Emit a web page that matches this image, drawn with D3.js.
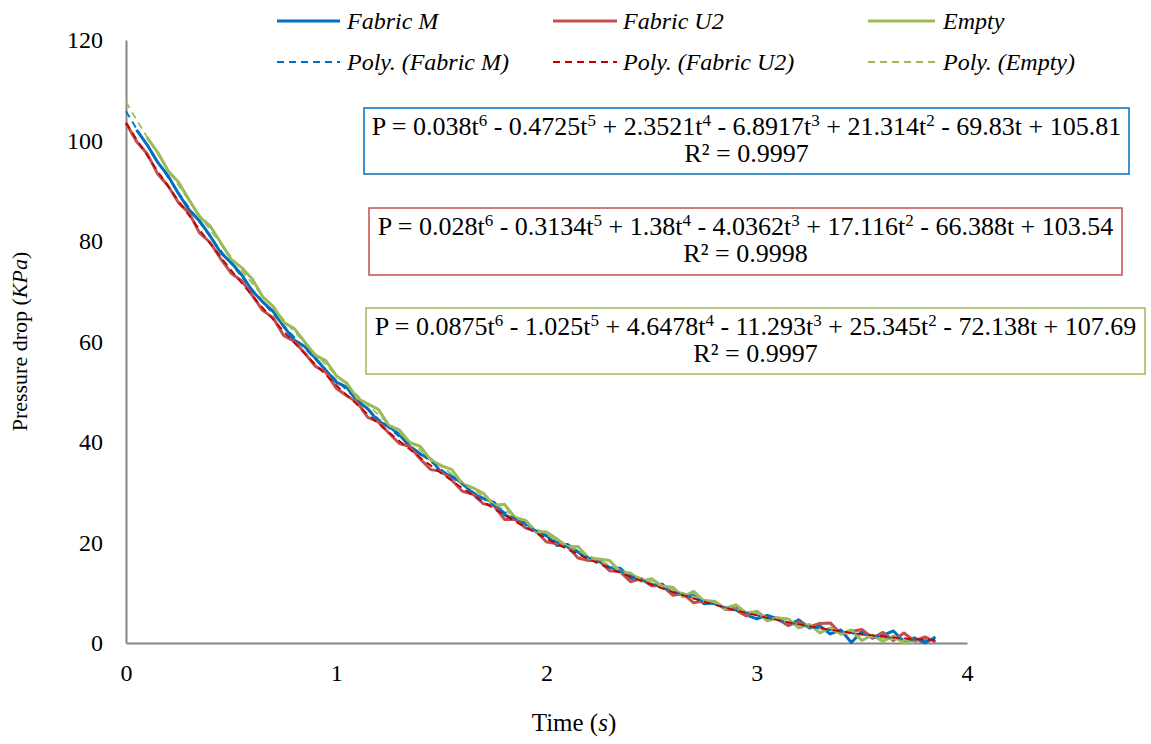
<!DOCTYPE html>
<html>
<head>
<meta charset="utf-8">
<script src="https://cdn.jsdelivr.net/npm/d3@7"></script>
<style>
  body { margin: 0; background: #fff; }
  text { font-family: "Liberation Serif", "Times New Roman", serif; fill: #000; }
</style>
</head>
<body>
<svg id="chart" width="1151" height="744"></svg>
<script>
// Sampling times (s)
const time = [0,0.05,0.1,0.15,0.2,0.25,0.3,0.35,0.4,0.45,0.5,0.55,0.6,0.65,0.7,0.75,0.8,0.85,0.9,0.95,
  1,1.05,1.1,1.15,1.2,1.25,1.3,1.35,1.4,1.45,1.5,1.55,1.6,1.65,1.7,1.75,1.8,1.85,1.9,1.95,
  2,2.05,2.1,2.15,2.2,2.25,2.3,2.35,2.4,2.45,2.5,2.55,2.6,2.65,2.7,2.75,2.8,2.85,2.9,2.95,
  3,3.05,3.1,3.15,3.2,3.25,3.3,3.35,3.4,3.45,3.5,3.55,3.6,3.65,3.7,3.75,3.8,3.85];

// Measured pressure drop (KPa)
const fabricM = [null,102.1,99.2,95.7,93.0,89.4,86.2,84.0,81.0,77.7,75.7,73.3,70.1,67.9,66.0,63.0,60.3,59.0,56.7,54.3,
  51.9,50.9,48.2,46.6,44.1,43.1,41.5,39.1,37.6,36.6,33.9,33.2,31.8,29.7,28.8,28.0,25.5,24.6,24.0,22.1,
  21.4,19.4,19.6,18.1,16.6,16.4,15.0,14.9,12.9,12.8,11.5,11.7,9.7,9.7,9.4,7.8,8.0,6.9,7.4,5.6,
  4.8,5.5,4.8,3.5,4.6,3.0,3.4,1.8,2.6,0.1,2.3,1.0,1.5,2.4,0.2,1.0,0.0,1.2];

const fabricU2 = [103.5,99.8,97.4,93.4,91.0,87.6,85.6,81.6,79.7,76.5,73.6,72.1,69.2,66.2,64.7,61.2,60.0,57.7,55.1,53.9,
  50.7,49.2,47.9,44.9,44.0,41.8,39.7,39.1,36.6,34.5,34.2,32.4,30.2,29.6,27.7,27.3,24.6,24.6,22.9,22.3,
  20.1,19.8,19.2,16.9,16.4,16.4,14.4,14.2,12.2,12.8,11.4,11.4,9.5,9.8,8.0,8.4,8.2,6.7,6.6,5.4,
  6.3,4.7,5.0,3.5,4.2,3.2,3.9,4.0,1.8,2.3,2.7,1.0,2.1,0.5,2.0,0.4,1.2,0.2];

const empty = [null,null,100.6,97.7,94.0,91.7,88.2,84.8,83.0,79.7,76.4,74.7,72.5,68.9,67.0,63.8,62.6,59.9,57.3,56.2,
  53.2,51.7,48.7,47.6,46.5,43.3,42.4,39.9,39.1,36.4,35.3,34.5,31.6,30.9,29.8,27.4,27.6,25.0,24.4,22.2,
  22.1,20.7,19.1,19.2,16.9,16.7,16.4,14.2,13.9,12.3,12.8,11.3,11.1,9.2,10.3,8.3,8.3,6.8,7.6,6.0,
  6.2,4.4,5.0,4.8,3.0,3.7,2.0,3.0,1.8,2.6,0.5,1.6,0.3,1.4,0.0,0.1,null,null];

// 6th-order polynomial trend coefficients, constant term first
const polyM = [105.81, -69.83, 21.314, -6.8917, 2.3521, -0.4725, 0.038];
const polyU2 = [103.54, -66.388, 17.116, -4.0362, 1.38, -0.3134, 0.028];
const polyEmpty = [107.69, -72.138, 25.345, -11.293, 4.6478, -1.025, 0.0875];
const rSquared = ["0.9997", "0.9998", "0.9997"];

const seriesNames = ["Fabric M", "Fabric U2", "Empty"];
const trendNames = ["Poly. (Fabric M)", "Poly. (Fabric U2)", "Poly. (Empty)"];
const xTicks = [0, 1, 2, 3, 4];
const yTicks = [0, 20, 40, 60, 80, 100, 120];

// ---- drawing ----
const svg = d3.select("#chart");
const plotLeft = 126, plotRight = 967, plotTop = 40, plotBottom = 643;
const x = d3.scaleLinear().domain([0, 4]).range([plotLeft, plotRight]);
const y = d3.scaleLinear().domain([0, 120]).range([plotBottom, plotTop]);

const dataColors = ["#0070C0", "#C0504D", "#9BBB59"];
const trendColors = ["#0070C0", "#C00000", "#9BBB59"];
const seriesValues = [fabricM, fabricU2, empty];
const polys = [polyM, polyU2, polyEmpty];

// axes
const yAxis = d3.axisLeft(y).tickValues(yTicks).tickSize(0).tickPadding(23).tickFormat(d3.format("d"));
const xAxis = d3.axisBottom(x).tickValues(xTicks).tickSize(0).tickPadding(21).tickFormat(d3.format("d"));

const gy = svg.append("g").attr("transform", `translate(${plotLeft},0)`).call(yAxis);
const gx = svg.append("g").attr("transform", `translate(0,${plotBottom})`).call(xAxis);
[gy, gx].forEach(g => {
  g.select(".domain").attr("stroke", "#868686").attr("stroke-width", 2);
  g.selectAll(".tick text").style("font-family", '"Liberation Serif", serif').style("font-size", "24px").attr("fill", "#000");
});

// axis titles
const yt = svg.append("text")
  .attr("transform", `translate(27,${(plotTop + plotBottom) / 2}) rotate(-90)`)
  .attr("text-anchor", "middle").style("font-size", "22px");
yt.append("tspan").text("Pressure drop (");
yt.append("tspan").style("font-style", "italic").text("KPa");
yt.append("tspan").text(")");

const xt = svg.append("text")
  .attr("x", 574).attr("y", 731)
  .attr("text-anchor", "middle").style("font-size", "25px");
xt.append("tspan").text("Time (");
xt.append("tspan").style("font-style", "italic").text("s");
xt.append("tspan").text(")");

// measured series
const line = d3.line()
  .defined(d => d[1] !== null)
  .x(d => x(d[0])).y(d => y(d[1]));

seriesValues.forEach((vals, i) => {
  const pts = time.map((t, j) => [t, vals[j]]);
  svg.append("path").datum(pts)
    .attr("fill", "none").attr("stroke", dataColors[i])
    .attr("stroke-width", 3).attr("stroke-linejoin", "round")
    .attr("d", line);
});

// polynomial trend lines (drawn from the stated equations)
const evalPoly = (c, t) => c.reduce((s, a, k) => s + a * Math.pow(t, k), 0);
[0, 2, 1].forEach(i => {
  const vals = seriesValues[i];
  let lastIdx = vals.length - 1;
  while (vals[lastIdx] === null) lastIdx--;
  const tEnd = time[lastIdx];
  const ts = d3.range(0, tEnd + 1e-9, 0.01);
  const pts = ts.map(t => [t, evalPoly(polys[i], t)]);
  svg.append("path").datum(pts)
    .attr("fill", "none").attr("stroke", trendColors[i])
    .attr("stroke-width", 1.8).attr("stroke-dasharray", "7,5")
    .attr("d", d3.line().x(d => x(d[0])).y(d => y(d[1])));
});

// legend
const legendCols = [{lx: 277, tx: 347}, {lx: 553, tx: 623}, {lx: 868, tx: 943}];
const legW = [63, 64, 67];
[0, 1, 2].forEach(i => {
  const c = legendCols[i];
  svg.append("line").attr("x1", c.lx).attr("x2", c.lx + legW[i]).attr("y1", 21).attr("y2", 21)
    .attr("stroke", dataColors[i]).attr("stroke-width", 3);
  svg.append("text").attr("x", c.tx).attr("y", 29).style("font-size", "24px").style("font-style", "italic")
    .text(seriesNames[i]);
  svg.append("line").attr("x1", c.lx).attr("x2", c.lx + legW[i]).attr("y1", 62).attr("y2", 62)
    .attr("stroke", trendColors[i]).attr("stroke-width", 1.8).attr("stroke-dasharray", "7,5");
  svg.append("text").attr("x", c.tx).attr("y", 70).style("font-size", "24px").style("font-style", "italic")
    .text(trendNames[i]);
});

// equation boxes
const boxes = [
  {x0: 364, x1: 1129, y0: 108, y1: 174},
  {x0: 369, x1: 1122, y0: 208, y1: 275},
  {x0: 366, x1: 1145, y0: 308, y1: 374}
];
const boxColors = ["#0070C0", "#C0504D", "#9BBB59"];

polys.forEach((c, i) => {
  const b = boxes[i];
  svg.append("rect").attr("x", b.x0).attr("y", b.y0)
    .attr("width", b.x1 - b.x0).attr("height", b.y1 - b.y0)
    .attr("fill", "#fff").attr("stroke", boxColors[i]).attr("stroke-width", 1.5);
  const cx = (b.x0 + b.x1) / 2;
  const eq = svg.append("text").attr("x", cx).attr("y", b.y0 + 27)
    .attr("text-anchor", "middle").style("font-size", "26px");
  let pending = "P = ";
  for (let k = 6; k >= 0; k--) {
    const a = c[k];
    if (k < 6) pending += a < 0 ? " - " : " + ";
    pending += String(Math.abs(a));
    if (k >= 1) pending += "t";
    if (k >= 2) {
      eq.append("tspan").attr("dy", k === 6 ? 0 : 9).text(pending);
      eq.append("tspan").attr("dy", -9).style("font-size", "17px").text(String(k));
      pending = "";
    }
  }
  eq.append("tspan").attr("dy", 9).text(pending);
  svg.append("text").attr("x", cx).attr("y", b.y0 + 54)
    .attr("text-anchor", "middle").style("font-size", "26px")
    .text("R² = " + rSquared[i]);
});
</script>
</body>
</html>
